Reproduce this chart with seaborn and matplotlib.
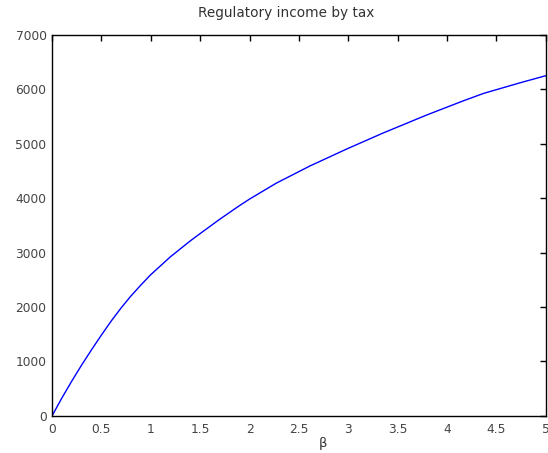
import matplotlib
matplotlib.use("Agg")
import matplotlib.pyplot as plt
import seaborn as sns
import pandas as pd

# Regulatory income as a function of the tax parameter beta
beta = [0, 0.1, 0.2, 0.3, 0.4, 0.5, 0.6, 0.7, 0.8, 0.9, 1.0, 1.2, 1.4,
        1.5, 1.7, 1.9, 2.0, 2.27, 2.61, 2.98, 3.35, 3.79, 4.16, 4.37, 4.74, 5.0]
income = [0, 330, 640, 935, 1215, 1485, 1745, 1985, 2205, 2405, 2595, 2925, 3215,
          3350, 3615, 3865, 3983, 4275, 4590, 4900, 5195, 5525, 5785, 5925, 6120, 6250]

xticks = [0, 0.5, 1, 1.5, 2, 2.5, 3, 3.5, 4, 4.5, 5]
xtick_labels = ["0", "0.5", "1", "1.5", "2", "2.5", "3", "3.5", "4", "4.5", "5"]
yticks = [0, 1000, 2000, 3000, 4000, 5000, 6000, 7000]

sns.set_theme(style="white")
plt.rcParams["font.family"] = ["DejaVu Sans"]

df = pd.DataFrame({"beta": beta, "income": income})

fig = plt.figure(figsize=(5.48, 4.53), dpi=100)
ax = fig.add_axes([0.095, 0.082, 0.901, 0.841])

sns.lineplot(data=df, x="beta", y="income", ax=ax, color="#0000ff",
             linewidth=1.0, estimator=None)

ax.set_xlim(0, 5)
ax.set_ylim(0, 7000)
ax.set_xticks(xticks)
ax.set_xticklabels(xtick_labels)
ax.set_yticks(yticks)
ax.set_yticklabels([str(v) for v in yticks])

for side in ["left", "right", "top", "bottom"]:
    ax.spines[side].set_visible(True)
    ax.spines[side].set_color("black")
    ax.spines[side].set_linewidth(1.0)

ax.tick_params(axis="both", which="both", direction="in", length=4,
               width=1.0, color="black", top=True, right=True,
               labelsize=8.8, labelcolor="#444444")
ax.tick_params(axis="x", pad=5)
ax.tick_params(axis="y", pad=4)

ax.set_title("Regulatory income by tax", fontsize=9.8, color="#333333",
             x=0.474, pad=13)
ax.set_xlabel("β", fontsize=9.5, color="#333333")
ax.xaxis.set_label_coords(0.549, -0.055)
ax.set_ylabel("")

fig.savefig("out.png", dpi=100, facecolor="white")
